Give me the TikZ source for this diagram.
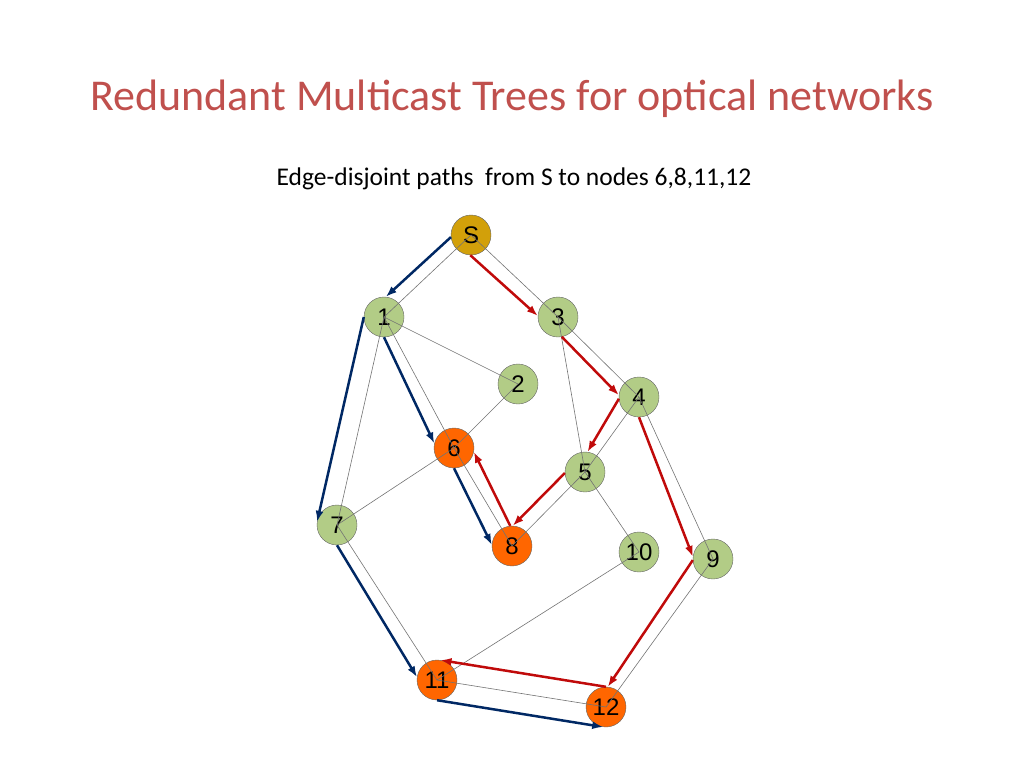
\documentclass[tikz,border=0pt]{standalone}
\usepackage{fontspec}
\setmainfont{Carlito}
\newfontfamily\labelfont{Liberation Sans}
\usetikzlibrary{arrows.meta,positioning}

\begin{document}
\begin{tikzpicture}[x=1pt,y=-1pt]
			\definecolor{titleColour}{RGB}{192, 80, 77}
			\definecolor{sourceColour}{RGB}{210, 160, 10}
			\definecolor{relayColour}{RGB}{178, 204, 134}
			\definecolor{sinkColour}{RGB}{255, 102, 0}
			\definecolor{blueTreeColour}{RGB}{0, 40, 100}
			\definecolor{redTreeColour}{RGB}{192, 10, 10}
			\tikzstyle{vertex}=[circle, draw=black!60, thin, minimum size=40pt, inner sep=0pt, font=\labelfont\fontsize{24}{24}\selectfont]
			\tikzstyle{source}=[vertex, fill=sourceColour]
			\tikzstyle{relay}=[vertex, fill=relayColour]
			\tikzstyle{sink}=[vertex, fill=sinkColour]
			\tikzstyle{link}=[-, line width=0.6pt, color=black!55]
			\tikzstyle{blueTree}=[-{Latex[length=11pt,width=8pt]}, line width=2.5pt, color=blueTreeColour]
			\tikzstyle{redTree}=[-{Latex[length=11pt,width=8pt]}, line width=2.5pt, color=redTreeColour]

			\useasboundingbox (0,0) rectangle (1024,768);

			\node [anchor=base, text=titleColour, font=\fontsize{44}{44}\selectfont] (title) at (512,110) {Redundant Multicast Trees for optical networks};
			\node [anchor=base, font=\fontsize{25.5}{25.5}\selectfont] (subtitle) at (514,185) {Edge-disjoint paths~ from S to nodes 6,8,11,12};

			\node [source] (S) at (471,235) {S};
			\node [relay] (1) at (384,317) {1};
			\node [relay] (2) at (518,384) {2};
			\node [relay] (3) at (558,317) {3};
			\node [relay] (4) at (639,397) {4};
			\node [relay] (5) at (585,472) {5};
			\node [sink] (6) at (454,448) {6};
			\node [relay] (7) at (337,525) {7};
			\node [sink] (8) at (512,546) {8};
			\node [relay] (9) at (713,559) {9};
			\node [relay] (10) at (639,552) {10};
			\node [sink] (11) at (437,680) {11};
			\node [sink] (12) at (606,707) {12};

			\path[link]
			(S.center) edge (1.center)
			(S.center) edge (3.center)
			(1.center) edge (2.center)
			(1.center) edge (6.center)
			(1.center) edge (7.center)
			(2.center) edge (6.center)
			(6.center) edge (7.center)
			(6.center) edge (8.center)
			(3.center) edge (4.center)
			(3.center) edge (5.center)
			(4.center) edge (5.center)
			(4.center) edge (9.center)
			(5.center) edge (8.center)
			(5.center) edge (10.center)
			(10.center) edge (11.center)
			(7.center) edge (11.center)
			(11.center) edge (12.center)
			(9.center) edge (12.center);

			\path[blueTree]
			(S.186) edge (1.85)
			(1.180) edge (7.171)
			(1.270) edge (6.167)
			(6.270) edge (8.177)
			(7.270) edge (11.172)
			(11.270) edge (12.262);

			\path[redTree]
			(S.268) edge (3.177)
			(3.281) edge (4.175)
			(4.185) edge (5.83)
			(5.183) edge (8.88)
			(8.95) edge (6.349)
			(4.270) edge (9.174)
			(9.183) edge (12.85)
			(12.90) edge (11.80);
		\end{tikzpicture}
\end{document}
